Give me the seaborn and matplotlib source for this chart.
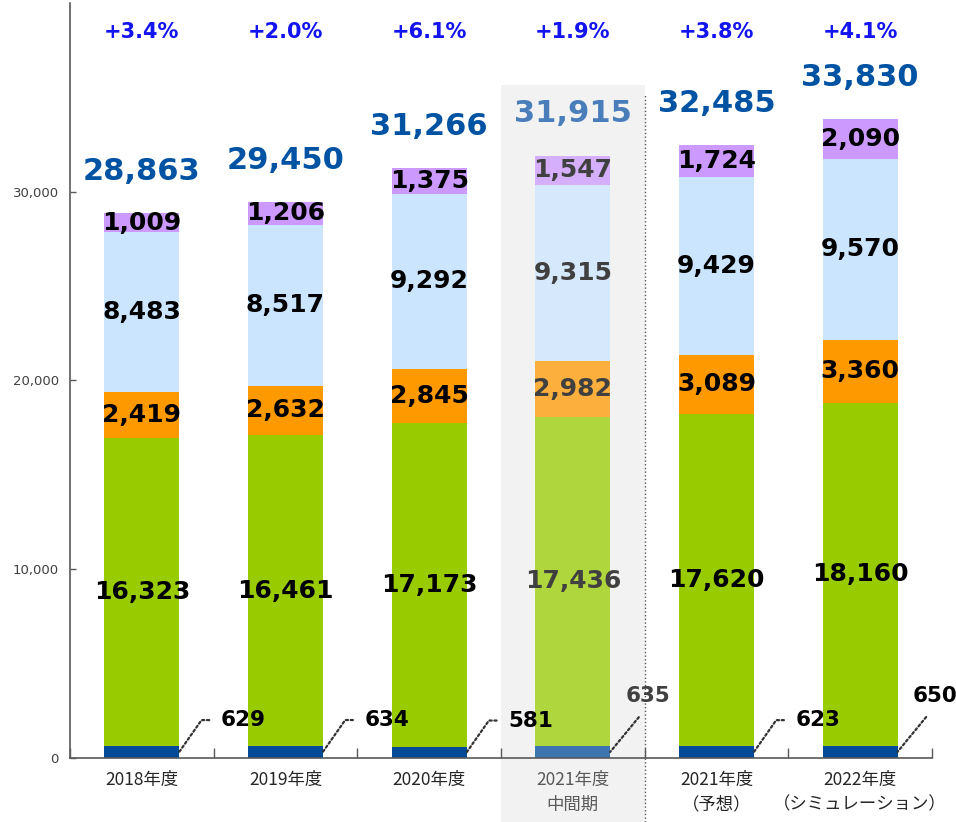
import pandas as pd
import seaborn as sns
import matplotlib.pyplot as plt
import matplotlib.colors as mcolors
from matplotlib.patches import Rectangle
import numpy as np

# Data
years = ['2018年度', '2019年度', '2020年度', '2021年度\n中間期', '2021年度\n（予想）', '2022年度\n（シミュレーション）']
navy = [629, 634, 581, 635, 623, 650]
green = [16323, 16461, 17173, 17436, 17620, 18160]
orange = [2419, 2632, 2845, 2982, 3089, 3360]
lightblue = [8483, 8517, 9292, 9315, 9429, 9570]
purple = [1009, 1206, 1375, 1547, 1724, 2090]
totals = [28863, 29450, 31266, 31915, 32485, 33830]
growth = ['+3.4%', '+2.0%', '+6.1%', '+1.9%', '+3.8%', '+4.1%']

layers = [navy, green, orange, lightblue, purple]
layer_colors = ['#004B97', '#99CC00', '#FF9900', '#CCE5FF', '#CC99FF']
mid = 3  # the faded half-year column
bg_gray = '#F2F2F2'


def fade(c, a=0.75):
    c = np.array(mcolors.to_rgb(c))
    g = np.array(mcolors.to_rgb(bg_gray))
    return a * c + (1 - a) * g


sns.set_style("white")
plt.rcParams['font.family'] = ['DejaVu Sans', 'Noto Sans CJK JP']

fig = plt.figure(figsize=(9.56, 8.22), dpi=100)
ax = fig.add_axes([0.0732, 0.0779, 0.9017, 0.9185])

# gray band behind the mid-year column, runs down past the axis
ax.add_patch(Rectangle((2.5, -0.085), 1.0, 0.976, transform=ax.get_xaxis_transform(),
                       facecolor=bg_gray, edgecolor='none', clip_on=False, zorder=0))
ax.plot([3.5, 3.5], [-0.085, 0.878], transform=ax.get_xaxis_transform(), clip_on=False,
        color='#555555', lw=1, ls=':', zorder=1)

# stacked bars: draw cumulative heights from the top layer down
df = pd.DataFrame({'year': years})
cum = np.cumsum(np.array(layers), axis=0)
for k in range(len(layers) - 1, -1, -1):
    df['h'] = cum[k]
    pal = [fade(layer_colors[k]) if i == mid else layer_colors[k] for i in range(len(years))]
    sns.barplot(data=df, x='year', y='h', hue='year', palette=pal, legend=False,
                width=0.52, saturation=1, linewidth=0, ax=ax, zorder=2)

# segment labels
for k in range(1, len(layers)):
    for i in range(len(years)):
        yc = cum[k - 1][i] + layers[k][i] / 2
        ax.text(i, yc, f'{layers[k][i]:,}', ha='center', va='center', fontsize=18,
                fontweight='bold', color='#404040' if i == mid else 'black', zorder=5)

# totals and growth rates
for i, t in enumerate(totals):
    ax.annotate(f'{t:,}', xy=(i, t), xytext=(0, 30), textcoords='offset points',
                ha='center', va='center', fontsize=22, fontweight='bold',
                color='#4A7EBB' if i == mid else '#0052A3', zorder=5)
    ax.text(i, 0.962, growth[i], transform=ax.get_xaxis_transform(), ha='center',
            va='center', fontsize=15, fontweight='bold', color='#1414F0')

# bottom segment values with dotted leader lines
dots = (0, (1, 1.2))
for i, v in enumerate(navy):
    col = '#404040' if i == mid else 'black'
    if i in (mid, 5):
        ax.annotate(f'{v}', xy=(i + 0.26, v / 2), xytext=(27, 40), textcoords='offset points',
                    ha='center', va='center', fontsize=15.5, fontweight='bold', color=col,
                    arrowprops=dict(arrowstyle='-', ls=dots, lw=1.6, color='#333333',
                                    relpos=(0.5, 0), shrinkA=7, shrinkB=0))
    else:
        ax.annotate(f'{v}', xy=(i + 0.26, v / 2), xytext=(30, 23), textcoords='offset points',
                    ha='left', va='center', fontsize=15.5, fontweight='bold', color=col,
                    arrowprops=dict(arrowstyle='-', ls=dots, lw=1.6, color='#333333',
                                    connectionstyle='angle,angleA=0,angleB=55,rad=0',
                                    relpos=(0, 0.5), shrinkA=6, shrinkB=0))

# axes styling
ax.set_xlim(-0.5, 5.5)
ax.set_ylim(0, 40000)
ax.set_xlabel('')
ax.set_ylabel('')
ax.set_yticks([0, 10000, 20000, 30000])
ax.set_yticklabels([f'{v:,}' for v in [0, 10000, 20000, 30000]], fontsize=9.5, color='#404040')
ax.tick_params(axis='y', direction='in', length=4, width=1, color='#595959', pad=8, left=True)
ax.set_xticks(range(len(years)))
ax.set_xticklabels(years, fontsize=12.5, family='Noto Sans CJK JP', linespacing=1.5, color='#262626')
ax.get_xticklabels()[mid].set_color('#595959')
ax.set_xticks(np.arange(-0.5, 6, 1), minor=True)
ax.tick_params(axis='x', which='major', length=0, pad=9)
ax.tick_params(axis='x', which='minor', direction='in', length=7, width=1, color='#595959', bottom=True)
for s in ['top', 'right']:
    ax.spines[s].set_visible(False)
for s in ['left', 'bottom']:
    ax.spines[s].set_color('#595959')
    ax.spines[s].set_linewidth(1.2)

fig.savefig('out.png', dpi=100)
